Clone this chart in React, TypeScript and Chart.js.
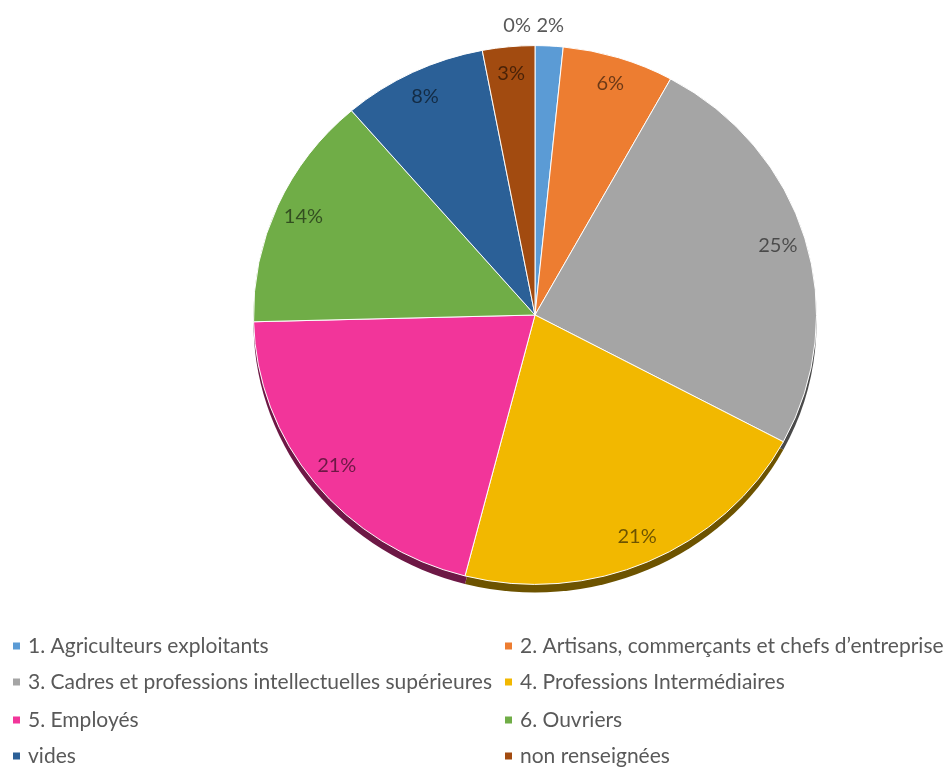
import React, { useEffect, useRef } from "react";
import { Chart, registerables } from "chart.js";

Chart.register(...registerables);

const categories = [
  "1. Agriculteurs exploitants",
  "2. Artisans, commerçants et chefs d’entreprise",
  "3. Cadres et professions intellectuelles supérieures",
  "4. Professions Intermédiaires",
  "5. Employés",
  "6. Ouvriers",
  "vides",
  "non renseignées",
  "",
];
const shares = [1.6, 6.4, 24.8, 21.2, 20.6, 14.1, 8.3, 3.0, 0];
const percentLabels = ["2%", "6%", "25%", "21%", "21%", "14%", "8%", "3%", "0%"];
const sliceColors = [
  "#5B9BD5",
  "#ED7D31",
  "#A5A5A5",
  "#F2B800",
  "#F2359A",
  "#70AD47",
  "#2B6097",
  "#A24B10",
  "#7F7F7F",
];

const FONT = "Lato, 'Open Sans', 'Liberation Sans', sans-serif";
const TILT = 0.957; // vertical squash of the 3D pie
const DEPTH = 8; // visible thickness of the pie edge

function shade(hex: string, f: number): string {
  const n = parseInt(hex.slice(1), 16);
  const r = Math.round(((n >> 16) & 255) * f);
  const g = Math.round(((n >> 8) & 255) * f);
  const b = Math.round((n & 255) * f);
  return `rgb(${r},${g},${b})`;
}

function pieCenter(chart: any) {
  const a = chart.chartArea;
  return { cx: (a.left + a.right) / 2, cy: (a.top + a.bottom) / 2 };
}

const tiltPlugin = {
  id: "pieTilt",
  beforeDatasetsDraw(chart: any) {
    const ctx = chart.ctx;
    const { cy } = pieCenter(chart);
    ctx.save();
    ctx.translate(0, cy);
    ctx.scale(1, TILT);
    ctx.translate(0, -cy);
    const meta = chart.getDatasetMeta(0);
    const off = DEPTH / TILT;
    meta.data.forEach((arc: any, i: number) => {
      const p = arc.getProps(["x", "y", "startAngle", "endAngle", "outerRadius"], true);
      if (p.endAngle - p.startAngle <= 0) return;
      ctx.beginPath();
      ctx.moveTo(p.x, p.y + off);
      ctx.arc(p.x, p.y + off, p.outerRadius, p.startAngle, p.endAngle);
      ctx.closePath();
      ctx.fillStyle = shade(sliceColors[i], 0.45);
      ctx.fill();
    });
  },
  afterDatasetsDraw(chart: any) {
    const ctx = chart.ctx;
    ctx.restore();
    const meta = chart.getDatasetMeta(0);
    ctx.save();
    ctx.font = `20px ${FONT}`;
    ctx.textBaseline = "middle";
    meta.data.forEach((arc: any, i: number) => {
      const p = arc.getProps(["x", "y", "startAngle", "endAngle", "outerRadius"], true);
      const mid = (p.startAngle + p.endAngle) / 2;
      const txt = percentLabels[i];
      if (shares[i] < 2.5) {
        const r = p.outerRadius + 21;
        let x = p.x + Math.cos(mid) * r;
        const y = p.y + Math.sin(mid) * r * TILT;
        ctx.fillStyle = "#595959";
        if (shares[i] === 0) {
          ctx.textAlign = "right";
          x -= 4;
        } else {
          ctx.textAlign = "center";
        }
        ctx.fillText(txt, x, y);
      } else {
        const r = p.outerRadius * 0.9;
        const x = p.x + Math.cos(mid) * r;
        const y = p.y + Math.sin(mid) * r * TILT;
        ctx.textAlign = "center";
        ctx.fillStyle = "rgba(0,0,0,0.55)";
        ctx.fillText(txt, x, y);
      }
    });
    ctx.restore();
  },
};

const legendPlugin = {
  id: "gridLegend",
  afterDraw(chart: any) {
    const ctx = chart.ctx;
    ctx.save();
    ctx.font = `21px ${FONT}`;
    ctx.textBaseline = "middle";
    ctx.textAlign = "left";
    const colX = [13, 505];
    const rowY = [646, 682, 720, 756];
    let k = 0;
    categories.forEach((label, i) => {
      if (!label) return;
      const col = k % 2;
      const row = Math.floor(k / 2);
      k++;
      const x = colX[col];
      const y = rowY[row];
      ctx.fillStyle = sliceColors[i];
      ctx.fillRect(x, y - 3.5, 7, 7);
      ctx.fillStyle = "#595959";
      ctx.fillText(label, x + 15, y);
    });
    ctx.restore();
  },
};

export default function App() {
  const ref = useRef<HTMLCanvasElement | null>(null);
  useEffect(() => {
    if (!ref.current) return;
    const chart = new Chart(ref.current, {
      type: "pie",
      data: {
        labels: categories,
        datasets: [
          {
            data: shares,
            backgroundColor: sliceColors,
            borderColor: "#FFFFFF",
            borderWidth: 1,
          },
        ],
      },
      options: {
        responsive: false,
        animation: false,
        layout: { padding: { left: 253, right: 127, top: 33, bottom: 170 } },
        plugins: {
          legend: { display: false },
          tooltip: { enabled: false },
        },
      },
      plugins: [tiltPlugin, legendPlugin],
    });
    return () => chart.destroy();
  }, []);
  return (
    <div style={{ position: "absolute", left: 0, top: 0, width: 944, height: 767, background: "#fff" }}>
      <canvas ref={ref} width={944} height={767} />
    </div>
  );
}
